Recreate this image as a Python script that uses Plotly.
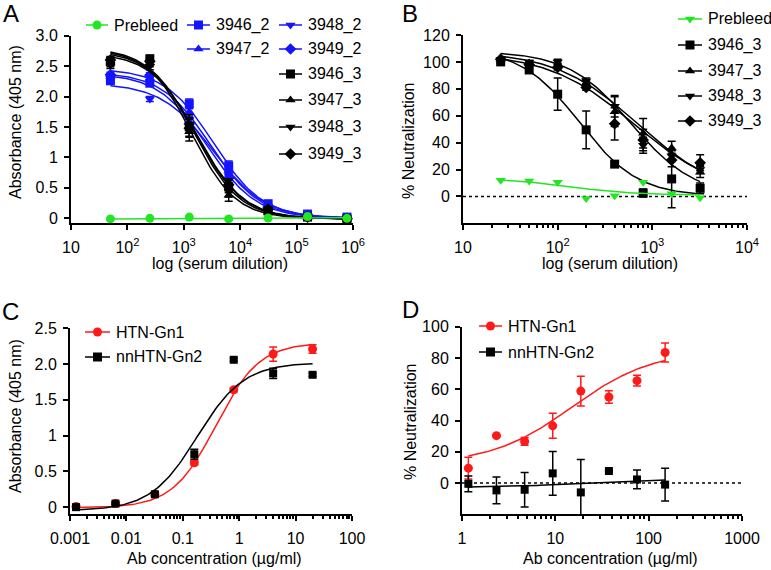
import numpy as np
import plotly.graph_objects as go

W, H = 771, 570
FONT = "Liberation Sans, Arial, sans-serif"
GREEN = "#22E622"
BLUE = "#1414FF"
RED = "#FF1A1A"
BLACK = "#000000"

# ---------------- panel A: ELISA, immune sera ----------------
a_dilution = [50, 250, 1250, 6250, 31250, 156250, 781250]
a_prebleed = [-0.01, 0.0, 0.02, -0.01, 0.005, 0.03, 0.0]
a_3946_2 = [2.26, 2.22, 1.88, 0.86, 0.24, 0.07, 0.02]
a_3947_2 = [2.33, 2.30, 1.75, 0.78, 0.21, 0.05, 0.01]
a_3948_2 = [2.30, 1.96, 1.62, 0.70, 0.20, 0.04, 0.01]
a_3949_2 = [2.36, 2.35, 1.55, 0.66, 0.18, 0.05, 0.00]
a_3946_3 = [2.58, 2.62, 1.50, 0.52, 0.12, 0.02, -0.01]
a_3947_3 = [2.55, 2.55, 1.42, 0.38, 0.10, 0.01, -0.02]
a_3948_3 = [2.52, 2.50, 1.55, 0.45, 0.13, 0.03, -0.01]
a_3949_3 = [2.60, 2.58, 1.48, 0.55, 0.15, 0.02, -0.01]
a_err_2 = [0.04, 0.04, 0.08, 0.08, 0.03, 0.02, 0.01]
a_err_3 = [0.06, 0.06, 0.15, 0.10, 0.03, 0.01, 0.01]
# 4PL fit parameters: top, bottom, EC50, hill
a_fit_prebleed = [-0.01, 0.01, 10000, 1.0]
a_fit_3946_2 = [2.46, 0.0, 3400, 1.0]
a_fit_3947_2 = [2.40, 0.0, 3000, 1.0]
a_fit_3948_2 = [2.22, 0.0, 3300, 0.95]
a_fit_3949_2 = [2.38, 0.0, 2600, 1.0]
a_fit_3946_3 = [2.80, -0.01, 1550, 1.08]
a_fit_3947_3 = [2.78, -0.01, 1400, 1.12]
a_fit_3948_3 = [2.76, -0.01, 1650, 1.05]
a_fit_3949_3 = [2.72, -0.01, 1750, 1.05]

# ---------------- panel B: neutralization, immune sera ----------------
b_dilution = [25, 50, 100, 200, 400, 800, 1600, 3200]
b_prebleed = [12, 11.5, 10.5, -1.5, 0.5, 10.5, 2, -1]
b_3946_3 = [100, 94, 76, 49.5, 24, 2.5, 13, 6]
b_3947_3 = [102, 99, 97, 84, 63, 47, 36, 18]
b_3948_3 = [102, 100, 100, 86, 67, 38, 30, 20]
b_3949_3 = [102, 98, 96, 81, 54, 42, 27, 25]
b_err_3946_3 = [1, 2, 12, 14, 1.5, 3, 21.5, 4]
b_err_3947_3 = [1, 1, 2, 2, 11, 11, 5, 4]
b_err_3948_3 = [1, 1, 2, 2, 8, 6, 4, 3]
b_err_3949_3 = [1, 1, 2, 2, 12, 8, 5, 6]
b_fit_prebleed = [14, 1, 120, 1.2]
b_fit_3946_3 = [110, 0, 170, 1.4]
b_fit_3947_3 = [108, 0, 700, 1.0]
b_fit_3948_3 = [108, 0, 600, 1.3]
b_fit_3949_3 = [107, 0, 650, 0.95]

# ---------------- panel C: ELISA, antibodies ----------------
c_conc = [0.00128, 0.0064, 0.032, 0.16, 0.8, 4, 20]
c_htn = [0.01, 0.05, 0.18, 0.62, 1.64, 2.14, 2.21]
c_nnhtn = [0.0, 0.05, 0.18, 0.74, 2.06, 1.87, 1.85]
c_err_htn = [0.01, 0.01, 0.02, 0.03, 0.03, 0.10, 0.06]
c_err_nnhtn = [0.02, 0.02, 0.03, 0.07, 0.02, 0.07, 0.02]
c_fit_htn = [2.30, -0.01, 0.386, 1.13]
c_fit_nnhtn = [2.02, -0.05, 0.18, 1.05]

# ---------------- panel D: neutralization, antibodies ----------------
d_conc = [1.17, 2.34, 4.69, 9.375, 18.75, 37.5, 75, 150]
d_htn = [9.5, 30.3, 26.6, 36.6, 58.8, 55, 65.5, 83.5]
d_nnhtn = [-0.5, -4.7, -4.3, 6.2, -6, 7.7, 2.3, -1]
d_err_htn = [7, 0.5, 2.5, 8, 9.5, 4, 3.5, 6]
d_err_nnhtn = [5, 8.5, 11, 14, 21, 0.5, 6, 10.5]
d_fit_htn = [85, 12, 15, 1.0]
d_fit_nnhtn = [2.5, -2.8, 20, 1.0]


def fourpl_down(x, p):
    top, bottom, ec50, h = p
    return bottom + (top - bottom) / (1 + (x / ec50) ** h)


def fourpl_up(x, p):
    top, bottom, ec50, h = p
    return bottom + (top - bottom) / (1 + (ec50 / x) ** h)


def px(x):
    return x / W


def py(y):
    return 1 - y / H


fig = go.Figure()


def add_series(xs, ys, err, fit, fn, color, symbol, size, ax):
    xs = np.asarray(xs, dtype=float)
    xc = np.logspace(np.log10(xs.min()), np.log10(xs.max()), 120)
    fig.add_trace(go.Scatter(x=xc, y=fn(xc, fit), mode="lines",
                             line=dict(color=color, width=1.5),
                             xaxis="x" + ax, yaxis="y" + ax,
                             showlegend=False, hoverinfo="skip"))
    fig.add_trace(go.Scatter(
        x=xs, y=ys, mode="markers",
        marker=dict(color=color, symbol=symbol, size=size, line=dict(width=0)),
        error_y=dict(type="data", array=err, visible=err is not None,
                     color=color, thickness=1.5, width=4),
        xaxis="x" + ax, yaxis="y" + ax, showlegend=False, cliponaxis=False))


# panel A traces (blue first, black on top, prebleed last)
for ys, fit, sym in [(a_3946_2, a_fit_3946_2, "square"),
                     (a_3947_2, a_fit_3947_2, "triangle-up"),
                     (a_3948_2, a_fit_3948_2, "triangle-down"),
                     (a_3949_2, a_fit_3949_2, "diamond")]:
    add_series(a_dilution, ys, a_err_2, fit, fourpl_down, BLUE, sym, 9, "")
for ys, fit, sym in [(a_3946_3, a_fit_3946_3, "square"),
                     (a_3947_3, a_fit_3947_3, "triangle-up"),
                     (a_3948_3, a_fit_3948_3, "triangle-down"),
                     (a_3949_3, a_fit_3949_3, "diamond")]:
    add_series(a_dilution, ys, a_err_3, fit, fourpl_down, BLACK, sym, 9, "")
add_series(a_dilution, a_prebleed, None, a_fit_prebleed, fourpl_down, GREEN, "circle", 9, "")

# panel B
for ys, err, fit, sym in [(b_3946_3, b_err_3946_3, b_fit_3946_3, "square"),
                          (b_3947_3, b_err_3947_3, b_fit_3947_3, "triangle-up"),
                          (b_3948_3, b_err_3948_3, b_fit_3948_3, "triangle-down"),
                          (b_3949_3, b_err_3949_3, b_fit_3949_3, "diamond")]:
    add_series(b_dilution, ys, err, fit, fourpl_down, BLACK, sym, 9, "2")
add_series(b_dilution, b_prebleed, None, b_fit_prebleed, fourpl_down, GREEN, "triangle-down", 9, "2")

# panel C
add_series(c_conc, c_htn, c_err_htn, c_fit_htn, fourpl_up, RED, "circle", 9, "3")
add_series(c_conc, c_nnhtn, c_err_nnhtn, c_fit_nnhtn, fourpl_up, BLACK, "square", 8, "3")

# panel D
add_series(d_conc, d_htn, d_err_htn, d_fit_htn, fourpl_up, RED, "circle", 9, "4")
add_series(d_conc, d_nnhtn, d_err_nnhtn, d_fit_nnhtn, fourpl_up, BLACK, "square", 8, "4")

# ---------------- legends drawn on an invisible pixel-space overlay ----------------
legend_items = [
    # text, colour, symbol, line x0, x1, y
    ("Prebleed", GREEN, "circle", 86, 108, 25),
    ("3946_2", BLUE, "square", 187, 210, 25),
    ("3948_2", BLUE, "triangle-down", 279, 302, 25),
    ("3947_2", BLUE, "triangle-up", 187, 210, 49),
    ("3949_2", BLUE, "diamond", 279, 302, 49),
    ("3946_3", BLACK, "square", 279, 302, 74),
    ("3947_3", BLACK, "triangle-up", 279, 302, 100),
    ("3948_3", BLACK, "triangle-down", 279, 302, 127),
    ("3949_3", BLACK, "diamond", 279, 302, 154),
    ("Prebleed", GREEN, "triangle-down", 678, 702, 19),
    ("3946_3", BLACK, "square", 678, 702, 45),
    ("3947_3", BLACK, "triangle-up", 678, 702, 71),
    ("3948_3", BLACK, "triangle-down", 678, 702, 96),
    ("3949_3", BLACK, "diamond", 678, 702, 121),
    ("HTN-Gn1", RED, "circle", 85, 110, 332),
    ("nnHTN-Gn2", BLACK, "square", 85, 110, 357),
    ("HTN-Gn1", RED, "circle", 479, 502, 326),
    ("nnHTN-Gn2", BLACK, "square", 479, 502, 352),
]
annotations = []
for text, color, sym, x0, x1, y in legend_items:
    fig.add_trace(go.Scatter(
        x=[x0, x1], y=[y, y], mode="lines", line=dict(color=color, width=1.5),
        xaxis="x5", yaxis="y5", showlegend=False, hoverinfo="skip"))
    fig.add_trace(go.Scatter(
        x=[(x0 + x1) / 2], y=[y], mode="markers",
        marker=dict(color=color, symbol=sym, size=9, line=dict(width=0)),
        xaxis="x5", yaxis="y5", showlegend=False, hoverinfo="skip"))
    annotations.append(dict(text=text, x=px(x1 + 4), y=py(y), xref="paper", yref="paper",
                            xanchor="left", yanchor="middle", showarrow=False,
                            font=dict(size=16, color="black", family=FONT)))

# axis titles and panel letters
titles = [
    ("log (serum dilution)", 220, 263, 0),
    ("Absorbance (405 nm)", 15, 122, -90),
    ("log (serum dilution)", 610, 263, 0),
    ("% Neutralization", 408, 141, -90),
    ("Ab concentration (µg/ml)", 214, 558, 0),
    ("Absorbance (405 nm)", 15, 416, -90),
    ("Ab concentration (µg/ml)", 610, 558, 0),
    ("% Neutralization", 410, 422, -90),
]
for text, x, y, ang in titles:
    annotations.append(dict(text=text, x=px(x), y=py(y), xref="paper", yref="paper",
                            xanchor="center", yanchor="middle", textangle=ang,
                            showarrow=False, font=dict(size=16, color="black", family=FONT)))
for text, x, y in [("A", 11, 14), ("B", 410, 14), ("C", 10, 311), ("D", 410, 309)]:
    annotations.append(dict(text=text, x=px(x), y=py(y), xref="paper", yref="paper",
                            xanchor="center", yanchor="middle", showarrow=False,
                            font=dict(size=24, color="black", family=FONT)))


def minor_vals(lo, hi):
    return [m * 10.0 ** e for e in range(lo, hi) for m in range(2, 10)]


base_axis = dict(showline=True, linecolor="black", linewidth=2, ticks="outside",
                 ticklen=5, tickwidth=2, tickcolor="black", showgrid=False,
                 zeroline=False, automargin=False,
                 tickfont=dict(size=16, color="black", family=FONT))


def xlog(dom, lo, hi, ticktext, anchor, minor=True):
    d = dict(base_axis, type="log", domain=[px(dom[0]), px(dom[1])], range=[lo, hi],
             tickmode="array", tickvals=[10.0 ** e for e in range(lo, hi + 1)],
             ticktext=ticktext, anchor=anchor, ticklabelstandoff=3)
    if minor:
        d["minor"] = dict(ticks="outside", ticklen=3, tickwidth=1.5, tickcolor="black",
                          tickmode="array", tickvals=minor_vals(lo, hi), showgrid=False)
    return d


def ylin(dom, rng, tickvals, ticktext, anchor):
    return dict(base_axis, domain=[py(dom[1]), py(dom[0])], range=rng,
                tickmode="array", tickvals=tickvals, ticktext=ticktext, anchor=anchor,
                ticklabelstandoff=3)


sup = ["10"] + ["10<sup>%d</sup>" % e for e in range(2, 7)]

fig.update_layout(
    template="none",
    width=W, height=H, margin=dict(l=0, r=0, t=0, b=0, autoexpand=False),
    paper_bgcolor="white", plot_bgcolor="rgba(0,0,0,0)",
    font=dict(family=FONT, color="black"), showlegend=False,
    xaxis=xlog((71, 353), 1, 6, sup, "y", minor=False),
    yaxis=ylin((35.7, 223.3), [-0.082, 3.0], [0, 0.5, 1, 1.5, 2, 2.5, 3],
               ["0", "0.5", "1", "1.5", "2.0", "2.5", "3.0"], "x"),
    xaxis2=xlog((463, 747), 1, 4, sup[:4], "y2"),
    yaxis2=ylin((35, 223.3), [-20, 120], [0, 20, 40, 60, 80, 100, 120],
                ["0", "20", "40", "60", "80", "100", "120"], "x2"),
    xaxis3=xlog((70, 352), -3, 2, ["0.001", "0.01", "0.1", "1", "10", "100"], "y3"),
    yaxis3=ylin((328.3, 514.3), [-0.1, 2.5], [0, 0.5, 1, 1.5, 2, 2.5],
                ["0", "0.5", "1", "1.5", "2.0", "2.5"], "x3"),
    xaxis4=xlog((462, 742), 0, 3, ["1", "10", "100", "1000"], "y4"),
    yaxis4=ylin((326.7, 514.3), [-20, 100], [0, 20, 40, 60, 80, 100],
                ["0", "20", "40", "60", "80", "100"], "x4"),
    xaxis5=dict(domain=[0, 1], range=[0, W], visible=False, anchor="y5",
                fixedrange=True, automargin=False),
    yaxis5=dict(domain=[0, 1], range=[H, 0], visible=False, anchor="x5",
                fixedrange=True, automargin=False),
    annotations=annotations,
    shapes=[
        dict(type="line", xref="x2 domain", yref="y2", x0=0, x1=1, y0=0, y1=0,
             line=dict(color="black", width=1.5, dash="dot"), layer="below"),
        dict(type="line", xref="x4 domain", yref="y4", x0=0, x1=1, y0=0, y1=0,
             line=dict(color="black", width=1.5, dash="dot"), layer="below"),
    ],
)

# the page body has a default 8px margin; remove it so the figure fills the window
fig.write_html("out.html", config={"displayModeBar": False},
               post_script="document.body.style.margin='0';document.body.style.overflow='hidden';")
